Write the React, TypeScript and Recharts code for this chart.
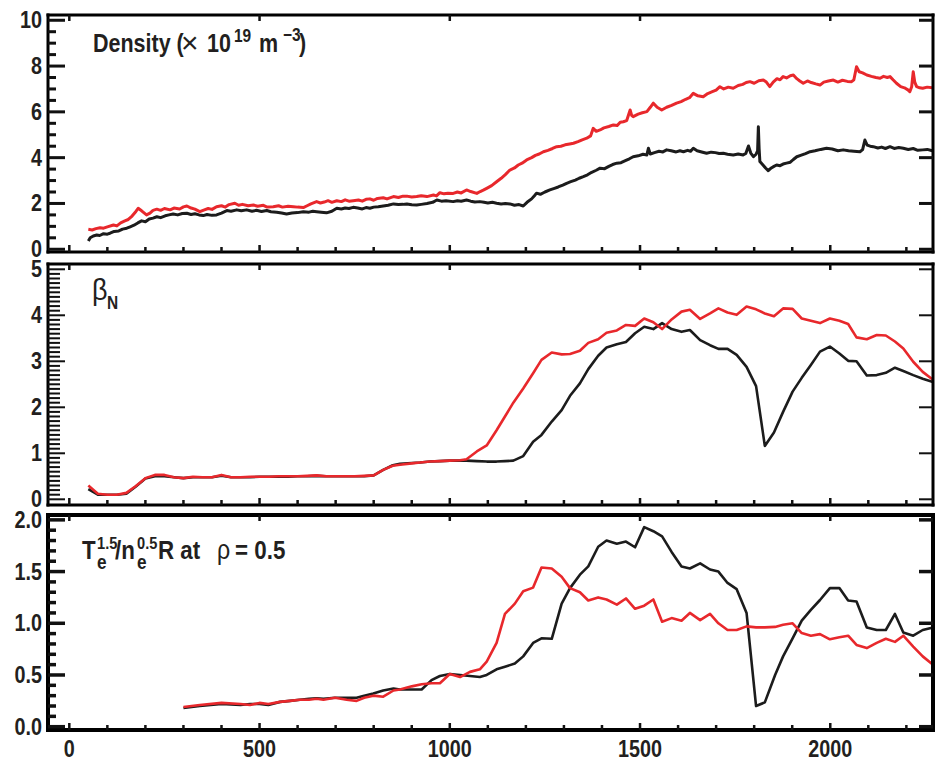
import React from 'react';
import { LineChart, Line, XAxis, YAxis } from 'recharts';

// ---------- data ----------
const DENS_RED_T = [50,60,70,81,90,100,116,125,135,146,155,165,175,181,190,203,212,220,230,240,250,265,275,290,300,309,320,330,343,355,365,375,387,400,410,420,435,445,455,470,484,495,510,520,536,550,560,575,589,600,615,625,635,650,660,670,680,690,703,715,725,735,746,760,770,780,790,800,810,825,835,852,865,877,887,900,913,925,940,957,965,974,985,995,1009,1020,1030,1044,1055,1071,1080,1088,1097,1110,1123,1135,1146,1158,1170,1180,1190,1202,1215,1225,1235,1246,1258,1270,1281,1292,1303,1315,1325,1337,1348,1360,1370,1377,1385,1395,1405,1418,1430,1440,1448,1456,1465,1474,1478,1482,1495,1506,1518,1527,1535,1545,1557,1570,1583,1596,1608,1620,1630,1640,1652,1666,1678,1690,1700,1710,1720,1732,1745,1758,1770,1779,1789,1800,1812,1824,1832,1841,1850,1860,1868,1876,1885,1895,1903,1912,1920,1929,1940,1950,1962,1973,1983,1995,2008,2020,2032,2045,2056,2062,2069,2076,2085,2096,2108,2120,2131,2140,2150,2157,2165,2174,2185,2195,2205,2209,2214,2218,2222,2227,2235,2243,2255,2268];
const DENS_RED = [0.87,0.84,0.90,0.94,0.92,0.98,1.06,1.02,1.15,1.24,1.30,1.45,1.65,1.79,1.68,1.50,1.58,1.70,1.75,1.70,1.78,1.72,1.80,1.76,1.85,1.89,1.80,1.75,1.64,1.72,1.78,1.74,1.86,1.90,1.84,1.95,2.01,1.92,1.96,1.90,1.93,1.88,1.92,1.84,1.86,1.90,1.84,1.88,1.86,1.84,1.82,1.90,1.98,2.08,2.02,2.06,2.12,2.05,2.12,2.08,2.16,2.10,2.12,2.15,2.10,2.18,2.20,2.14,2.22,2.25,2.20,2.30,2.26,2.32,2.32,2.28,2.30,2.34,2.30,2.37,2.33,2.47,2.42,2.45,2.44,2.50,2.46,2.59,2.52,2.44,2.52,2.58,2.66,2.78,2.95,3.10,3.26,3.46,3.55,3.68,3.76,3.90,4.00,4.10,4.16,4.26,4.32,4.40,4.48,4.50,4.56,4.60,4.63,4.70,4.78,4.85,4.95,5.28,5.15,5.21,5.30,5.36,5.43,5.40,5.55,5.57,5.62,6.08,5.85,5.79,5.90,5.96,6.01,6.20,6.38,6.20,6.08,6.20,6.28,6.38,6.45,6.55,6.62,6.81,6.70,6.66,6.80,6.88,6.95,7.10,7.00,7.08,7.03,7.15,7.20,7.28,7.32,7.25,7.36,7.39,7.30,7.10,7.30,7.45,7.40,7.54,7.48,7.58,7.61,7.45,7.35,7.25,7.35,7.28,7.22,7.17,7.30,7.35,7.39,7.30,7.38,7.33,7.32,7.40,7.97,7.75,7.70,7.61,7.55,7.50,7.47,7.55,7.50,7.54,7.40,7.25,7.10,7.05,6.95,6.88,7.10,7.75,7.30,7.10,7.05,7.03,7.08,7.05];

const DENS_BLK_T = [50,55,63,72,80,90,100,107,118,130,140,151,160,170,180,190,200,210,220,230,240,252,262,273,285,297,309,320,330,341,352,362,375,387,400,414,425,440,452,466,480,492,505,519,530,545,558,571,585,600,615,630,640,650,662,676,690,703,715,725,735,746,758,770,780,790,800,812,825,838,852,865,877,887,900,913,925,940,955,966,978,990,1009,1020,1030,1044,1055,1066,1079,1090,1100,1112,1123,1135,1146,1158,1170,1182,1193,1203,1215,1223,1228,1238,1250,1263,1275,1285,1297,1307,1318,1330,1340,1351,1362,1373,1385,1395,1407,1418,1428,1439,1450,1460,1472,1482,1495,1508,1518,1522,1527,1538,1550,1560,1570,1582,1595,1605,1614,1625,1633,1640,1650,1662,1675,1687,1698,1708,1719,1730,1745,1758,1771,1778,1785,1791,1798,1805,1809,1811,1813,1815,1822,1830,1837,1845,1852,1859,1868,1876,1885,1895,1903,1912,1922,1935,1947,1960,1975,1990,2005,2020,2034,2048,2062,2078,2085,2091,2097,2105,2113,2125,2135,2145,2157,2168,2180,2192,2205,2218,2230,2243,2255,2268];
const DENS_BLK = [0.36,0.50,0.58,0.62,0.60,0.68,0.66,0.70,0.78,0.80,0.88,0.92,0.98,1.05,1.15,1.24,1.20,1.32,1.36,1.42,1.38,1.46,1.50,1.54,1.50,1.56,1.57,1.52,1.55,1.50,1.47,1.52,1.48,1.50,1.58,1.69,1.66,1.72,1.68,1.72,1.66,1.70,1.65,1.69,1.64,1.62,1.58,1.54,1.58,1.60,1.64,1.62,1.66,1.64,1.62,1.59,1.66,1.79,1.76,1.80,1.78,1.83,1.80,1.76,1.82,1.79,1.84,1.86,1.89,1.92,1.98,1.95,1.96,1.98,1.94,1.93,1.96,2.00,2.05,2.15,2.10,2.12,2.08,2.12,2.10,2.15,2.10,2.06,2.08,2.05,2.02,2.05,2.01,1.98,2.00,1.98,1.92,1.95,1.89,2.05,2.20,2.35,2.45,2.40,2.50,2.59,2.66,2.72,2.80,2.88,2.95,3.02,3.10,3.17,3.25,3.36,3.45,3.54,3.52,3.62,3.70,3.76,3.78,3.86,3.95,4.04,4.08,4.15,4.12,4.41,4.16,4.22,4.28,4.25,4.34,4.30,4.25,4.30,4.26,4.32,4.28,4.41,4.30,4.25,4.19,4.24,4.22,4.18,4.19,4.15,4.12,4.16,4.12,4.18,4.51,4.20,4.04,4.15,4.30,5.35,4.40,3.83,3.70,3.55,3.43,3.55,3.62,3.68,3.65,3.72,3.76,3.80,3.92,4.04,4.10,4.18,4.26,4.30,4.36,4.41,4.38,4.30,4.34,4.30,4.28,4.26,4.35,4.77,4.55,4.50,4.48,4.42,4.46,4.40,4.48,4.40,4.44,4.41,4.36,4.40,4.32,4.34,4.36,4.30];

const BETA_T = [50,75,100,125,150,175,200,225,250,275,300,325,350,375,400,425,450,475,500,525,550,575,600,625,650,675,700,725,750,775,800,825,850,869,900,922,948,974,1000,1027,1044,1071,1097,1123,1145,1167,1193,1219,1241,1268,1294,1316,1342,1364,1390,1412,1439,1463,1487,1511,1535,1558,1583,1609,1631,1658,1684,1706,1730,1754,1780,1805,1828,1852,1876,1901,1925,1949,1973,1999,2024,2047,2069,2096,2122,2146,2170,2192,2218,2243,2270];
const BETA_BLK = [0.22,0.10,0.10,0.10,0.12,0.28,0.45,0.50,0.50,0.48,0.46,0.48,0.48,0.48,0.51,0.48,0.48,0.48,0.49,0.49,0.49,0.49,0.50,0.50,0.51,0.50,0.50,0.50,0.50,0.50,0.52,0.64,0.74,0.77,0.79,0.80,0.82,0.83,0.84,0.84,0.84,0.83,0.82,0.82,0.83,0.84,0.94,1.25,1.40,1.69,1.94,2.25,2.52,2.83,3.12,3.30,3.37,3.42,3.61,3.75,3.70,3.83,3.70,3.64,3.68,3.46,3.35,3.27,3.27,3.14,2.88,2.46,1.16,1.45,1.90,2.34,2.64,2.92,3.21,3.32,3.17,3.01,3.00,2.69,2.70,2.75,2.86,2.79,2.70,2.62,2.55];
const BETA_RED = [0.30,0.12,0.10,0.10,0.14,0.29,0.46,0.53,0.53,0.48,0.46,0.49,0.48,0.48,0.53,0.48,0.48,0.49,0.49,0.49,0.50,0.50,0.50,0.51,0.52,0.50,0.50,0.50,0.50,0.51,0.52,0.64,0.73,0.75,0.78,0.80,0.82,0.83,0.84,0.85,0.87,1.04,1.17,1.50,1.80,2.10,2.41,2.74,3.03,3.19,3.15,3.16,3.23,3.40,3.48,3.62,3.67,3.79,3.77,3.93,3.85,3.70,3.91,4.08,4.12,3.92,4.04,4.15,4.06,4.01,4.19,4.13,4.04,3.98,4.15,4.14,3.93,3.88,3.83,3.93,3.88,3.81,3.52,3.48,3.57,3.56,3.43,3.28,2.99,2.77,2.60];

const TE_T = [300,343,400,450,475,500,523,554,580,606,630,650,668,698,729,755,775,799,825,852,869,900,926,952,974,1000,1027,1053,1079,1097,1123,1145,1171,1193,1219,1241,1268,1294,1316,1342,1364,1390,1412,1439,1463,1487,1511,1535,1558,1583,1609,1631,1658,1684,1706,1730,1754,1780,1805,1828,1855,1876,1901,1925,1949,1973,1999,2024,2047,2069,2096,2122,2146,2170,2192,2218,2243,2270];
const TE_BLK = [0.18,0.20,0.22,0.21,0.22,0.22,0.21,0.24,0.25,0.26,0.27,0.275,0.27,0.28,0.28,0.28,0.30,0.32,0.35,0.37,0.36,0.36,0.36,0.45,0.49,0.51,0.50,0.49,0.48,0.50,0.555,0.58,0.61,0.68,0.81,0.855,0.85,1.19,1.34,1.47,1.55,1.74,1.80,1.77,1.79,1.735,1.93,1.89,1.84,1.69,1.55,1.53,1.58,1.52,1.50,1.39,1.33,1.10,0.20,0.235,0.50,0.68,0.855,1.025,1.13,1.225,1.34,1.34,1.22,1.21,0.96,0.935,0.935,1.09,0.91,0.88,0.935,0.96];
const TE_RED = [0.19,0.21,0.23,0.22,0.21,0.23,0.22,0.24,0.25,0.26,0.26,0.27,0.26,0.28,0.26,0.25,0.28,0.30,0.29,0.35,0.36,0.39,0.41,0.42,0.42,0.51,0.48,0.53,0.555,0.63,0.81,1.09,1.19,1.31,1.345,1.54,1.53,1.45,1.34,1.30,1.22,1.25,1.23,1.18,1.24,1.14,1.17,1.23,1.015,1.05,1.025,1.10,1.03,1.09,1.00,0.935,0.935,0.97,0.96,0.96,0.965,0.985,1.00,0.905,0.88,0.895,0.845,0.865,0.88,0.79,0.76,0.81,0.85,0.82,0.88,0.775,0.68,0.60];

const X_DOMAIN: [number, number] = [-56, 2270];
const X_MAJOR = [0, 500, 1000, 1500, 2000];
const X_LABELS = ['0', '500', '1000', '1500', '2000'];
const X_TICKS = [0,100,200,300,400,500,600,700,800,900,1000,1100,1200,1300,1400,1500,1600,1700,1800,1900,2000,2100,2200];

const DENS_MAJOR = [0, 2, 4, 6, 8, 10];
const DENS_LABELS = ['0', '2', '4', '6', '8', '10'];
const BETA_MAJOR = [0, 1, 2, 3, 4, 5];
const BETA_LABELS = ['0', '1', '2', '3', '4', '5'];
const TE_MAJOR = [0, 0.5, 1, 1.5, 2];
const TE_LABELS = ['0.0', '0.5', '1.0', '1.5', '2.0'];

const steps = (a: number, b: number, s: number) => {
  const out: number[] = [];
  const n = Math.round((b - a) / s);
  for (let i = 0; i <= n; i++) out.push(Math.round((a + i * s) * 1000) / 1000);
  return out;
};
const DENS_TICKS = steps(0, 10, 0.5);
const BETA_TICKS = steps(0, 5, 0.1);
const TE_TICKS = steps(0, 2, 0.1);

const pairs = (ts: number[], vs: number[]) => ts.map((t, i) => ({ t, v: vs[i] }));

// ---------- styling / layout ----------
const RED = '#e8282c';
const BLACK = '#1c1c1c';
const INK = '#231f20';
const TICK = '#111111';
const FONT = '"Liberation Sans", Arial, Helvetica, sans-serif';
const SX = 0.86;
const CHART_W = 935;
const Y_AXIS_W = 48;
const RIGHT_W = 2;
const PLOT_L = Y_AXIS_W;
const PLOT_R = CHART_W - RIGHT_W;

function Txt(p: { x: number; y: number; size: number; bold?: boolean; anchor?: string; sx?: number; children: any }) {
  return (
    <text
      transform={`translate(${p.x},${p.y}) scale(${p.sx ?? SX},1)`}
      fontFamily={FONT}
      fontWeight={p.bold === false ? 400 : 700}
      fontSize={p.size}
      textAnchor={p.anchor || 'start'}
      fill={INK}
      stroke="none"
    >
      {p.children}
    </text>
  );
}

const isIn = (arr: number[], v: number) => arr.findIndex((m) => Math.abs(m - Number(v)) < 1e-6);

const leftLabel = (majors: number[], labels: string[]) => (props: any) => {
  const x = Number(props.x);
  const y = Number(props.y);
  const idx = isIn(majors, props.payload.value);
  if (idx < 0) return <g />;
  return (
    <Txt x={x - 6} y={y + 8} size={23} anchor="end">
      {labels[idx]}
    </Txt>
  );
};

const bottomLabel = (props: any) => {
  const x = Number(props.x);
  const y = Number(props.y);
  const idx = isIn(X_MAJOR, props.payload.value);
  if (idx < 0) return <g />;
  return (
    <Txt x={x} y={y + 27} size={23} anchor="middle">
      {X_LABELS[idx]}
    </Txt>
  );
};

type PanelDef = {
  top: number;
  height: number;
  marginTop: number;
  bottomH: number;
  yDomain: [number, number];
  yTicks: number[];
  majors: number[];
  labels: string[];
  minorLen: number;
  tickW: number;
  frameW: number;
  xLabels: boolean;
  red: { t: number; v: number }[];
  black: { t: number; v: number }[];
  lineW: number;
};

const PANELS: PanelDef[] = [
  {
    top: 0, height: 270, marginTop: 14, bottomH: 18,
    yDomain: [-0.12, 10.23], yTicks: DENS_TICKS, majors: DENS_MAJOR, labels: DENS_LABELS,
    minorLen: 8, tickW: 3, frameW: 3, xLabels: false,
    red: pairs(DENS_RED_T, DENS_RED), black: pairs(DENS_BLK_T, DENS_BLK), lineW: 3,
  },
  {
    top: 256, height: 260, marginTop: 7, bottomH: 11,
    yDomain: [-0.124, 5.115], yTicks: BETA_TICKS, majors: BETA_MAJOR, labels: BETA_LABELS,
    minorLen: 12, tickW: 2, frameW: 3, xLabels: false,
    red: pairs(BETA_T, BETA_RED), black: pairs(BETA_T, BETA_BLK), lineW: 2.6,
  },
  {
    top: 507, height: 255, marginTop: 7, bottomH: 32,
    yDomain: [-0.032, 2.047], yTicks: TE_TICKS, majors: TE_MAJOR, labels: TE_LABELS,
    minorLen: 8, tickW: 3.5, frameW: 4, xLabels: true,
    red: pairs(TE_T, TE_RED), black: pairs(TE_T, TE_BLK), lineW: 2.6,
  },
];

function Panel(p: PanelDef) {
  const axisLine = { stroke: '#000', strokeWidth: p.frameW, strokeLinecap: 'square' as const };
  return (
    <div style={{ position: 'absolute', left: 0, top: p.top }}>
      <LineChart width={CHART_W} height={p.height} data={p.black} margin={{ top: p.marginTop, right: 0, bottom: 0, left: 0 }}>
        <XAxis
          xAxisId="b"
          orientation="bottom"
          dataKey="t"
          type="number"
          domain={X_DOMAIN}
          ticks={X_TICKS}
          interval={0}
          tickSize={0}
          tickMargin={0}
          height={p.bottomH}
          axisLine={axisLine}
          tickLine={false}
          tick={p.xLabels ? bottomLabel : false}
        />
        <XAxis xAxisId="top" orientation="top" type="number" domain={X_DOMAIN} height={1} axisLine={axisLine} tickLine={false} tick={false} />
        <YAxis
          yAxisId="l"
          orientation="left"
          type="number"
          domain={p.yDomain}
          ticks={p.yTicks}
          interval={0}
          tickSize={0}
          tickMargin={0}
          width={Y_AXIS_W}
          axisLine={axisLine}
          tickLine={false}
          tick={leftLabel(p.majors, p.labels)}
        />
        <YAxis yAxisId="r" orientation="right" type="number" domain={p.yDomain} width={RIGHT_W} axisLine={axisLine} tickLine={false} tick={false} />
        <Line xAxisId="b" yAxisId="l" data={p.black} dataKey="v" stroke={BLACK} strokeWidth={p.lineW} dot={false} isAnimationActive={false} strokeLinejoin="round" />
        <Line xAxisId="b" yAxisId="l" data={p.red} dataKey="v" stroke={RED} strokeWidth={p.lineW} dot={false} isAnimationActive={false} strokeLinejoin="round" />
      </LineChart>
    </div>
  );
}

// inward tick marks for one panel (filled rects), using the same linear axis mapping as the panel's axes
function PanelTicks(p: PanelDef) {
  const plotTop = p.top + p.marginTop + 1;
  const plotBottom = p.top + p.height - p.bottomH;
  const yPix = (v: number) => plotBottom - ((v - p.yDomain[0]) / (p.yDomain[1] - p.yDomain[0])) * (plotBottom - plotTop);
  const xPix = (t: number) => PLOT_L + ((t - X_DOMAIN[0]) / (X_DOMAIN[1] - X_DOMAIN[0])) * (PLOT_R - PLOT_L);
  const w = p.tickW;
  const rects: any[] = [];
  p.yTicks.forEach((v, i) => {
    const y = yPix(v);
    const major = isIn(p.majors, v) >= 0;
    const len = major ? 17 : p.minorLen;
    rects.push(<rect key={`l${i}`} x={PLOT_L} y={y - w / 2} width={len} height={w} fill={TICK} />);
    if (major) rects.push(<rect key={`r${i}`} x={PLOT_R - 14} y={y - w / 2} width={14} height={w} fill={TICK} />);
  });
  X_TICKS.forEach((t, i) => {
    const x = xPix(t);
    const major = isIn(X_MAJOR, t) >= 0;
    const len = major ? 7 : 5;
    rects.push(<rect key={`b${i}`} x={x - 1.25} y={plotBottom - len} width={2.5} height={len} fill={TICK} />);
    if (major) rects.push(<rect key={`t${i}`} x={x - 1.25} y={plotTop} width={2.5} height={6} fill={TICK} />);
  });
  return <g>{rects}</g>;
}

export default function App() {
  return (
    <div style={{ position: 'absolute', left: 0, top: 0, width: 935, height: 762, background: '#fff', overflow: 'hidden' }}>
      {PANELS.map((p, i) => (
        <Panel key={i} {...p} />
      ))}
      <svg width={935} height={762} style={{ position: 'absolute', left: 0, top: 0, pointerEvents: 'none' }}>
        {PANELS.map((p, i) => (
          <PanelTicks key={i} {...p} />
        ))}
        {/* Density title */}
        <Txt x={93} y={52} size={25}>Density (</Txt>
        <Txt x={181} y={53} size={30} bold={false} sx={1}>×</Txt>
        <Txt x={207} y={52} size={25}>10</Txt>
        <Txt x={234} y={42} size={18}>19</Txt>
        <Txt x={259} y={52} size={25}>m</Txt>
        <Txt x={283} y={41} size={18}>−3</Txt>
        <Txt x={299} y={52} size={25}>)</Txt>
        {/* beta_N */}
        <Txt x={92} y={300} size={30} bold={false} sx={0.9}>β</Txt>
        <Txt x={107} y={309} size={18}>N</Txt>
        {/* Te title */}
        <Txt x={82} y={559} size={26}>T</Txt>
        <Txt x={97} y={549} size={17}>1.5</Txt>
        <Txt x={97} y={569} size={20}>e</Txt>
        <Txt x={115} y={559} size={26}>/n</Txt>
        <Txt x={137} y={549} size={17}>0.5</Txt>
        <Txt x={137} y={569} size={20}>e</Txt>
        <Txt x={158} y={559} size={26}>R at</Txt>
        <Txt x={217} y={559} size={27} bold={false}>ρ</Txt>
        <Txt x={235} y={559} size={26}>= 0.5</Txt>
      </svg>
    </div>
  );
}
